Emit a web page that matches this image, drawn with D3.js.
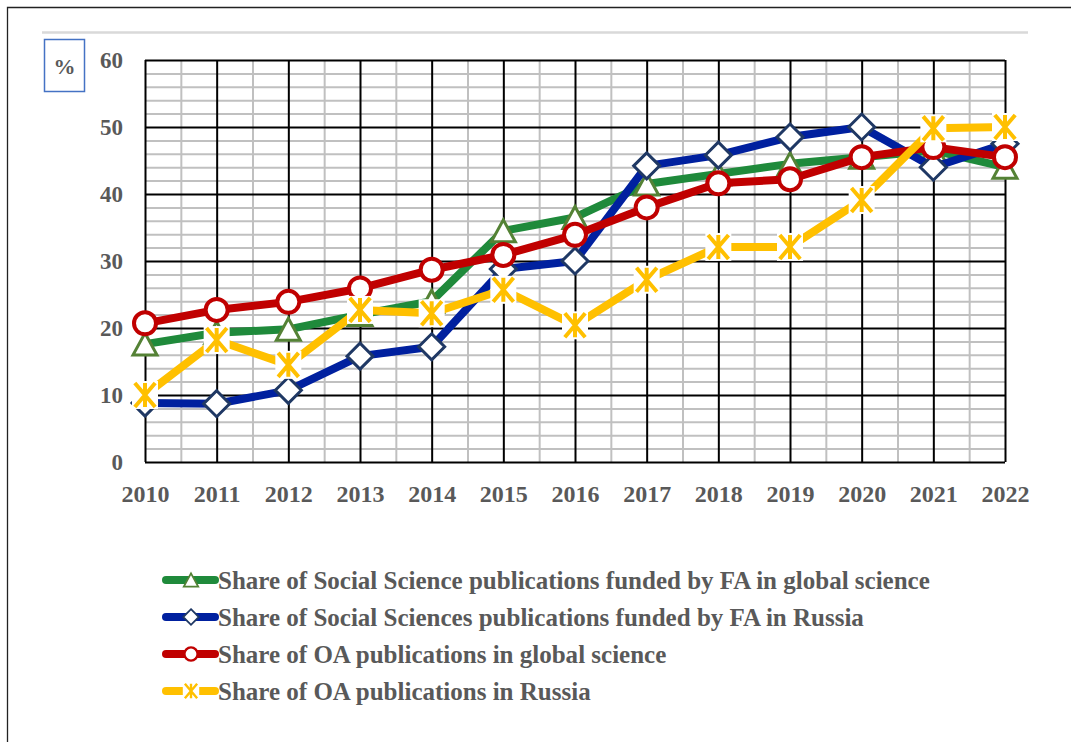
<!DOCTYPE html>
<html><head><meta charset="utf-8">
<script src="https://cdn.jsdelivr.net/npm/d3@7"></script>
<style>
html,body{margin:0;padding:0;background:#fff;}
svg{display:block;}
</style></head>
<body>
<svg id="chart" width="1071" height="742"></svg>
<script>
const years = [2010,2011,2012,2013,2014,2015,2016,2017,2018,2019,2020,2021,2022];
const yTicks = [0,10,20,30,40,50,60];
const ssGlobalFA = [17.6,19.3,19.8,22.0,24.0,34.5,36.5,41.5,43.0,44.5,45.5,46.5,44.0];
const ssRussiaFA = [8.8,8.7,10.7,15.8,17.2,28.8,30.0,44.2,45.8,48.5,50.0,44.0,47.5];
const oaGlobal   = [20.7,22.7,23.9,25.9,28.7,30.9,33.9,38.0,41.6,42.2,45.5,47.0,45.5];
const oaRussia   = [10.0,18.2,14.5,22.7,22.2,25.7,20.4,27.2,32.1,32.1,39.1,49.8,50.0];
const seriesNames = [
  "Share of Social Science publications funded by FA in global science",
  "Share of Social Sciences publications funded by FA in Russia",
  "Share of OA publications in global science",
  "Share of OA publications in Russia"
];

const series = [
  {name:seriesNames[0], values:ssGlobalFA, color:"#1f8a3b", mstroke:"#548235", marker:"triangle"},
  {name:seriesNames[1], values:ssRussiaFA, color:"#00209f", mstroke:"#1f3864", marker:"diamond"},
  {name:seriesNames[2], values:oaGlobal,   color:"#c00000", mstroke:"#c00000", marker:"circle"},
  {name:seriesNames[3], values:oaRussia,   color:"#ffc000", mstroke:"#ffc000", marker:"star"}
];

const FONT = "'Liberation Serif', 'Times New Roman', Tinos, 'DejaVu Serif', serif";
const svg = d3.select("#chart");
const L=145, R=1005, T=60, B=462;
const x = d3.scaleLinear().domain([2010,2022]).range([L,R]);
const y = d3.scaleLinear().domain([0,60]).range([B,T]);

function styleText(sel, size){
  sel.attr("font-family", FONT).attr("font-weight","bold").attr("fill","#595959").attr("font-size", size)
     .style("font-family", FONT).style("font-weight","bold");
}

// outer border
svg.append("path").attr("d","M7.5,742 V7.5 H1071").attr("fill","none").attr("stroke","#222").attr("stroke-width",1.3);
// top light line
svg.append("line").attr("x1",42).attr("x2",1028).attr("y1",32.5).attr("y2",32.5).attr("stroke","#d9d9d9").attr("stroke-width",2.5);

// % box
svg.append("rect").attr("x",44.5).attr("y",39.5).attr("width",40).attr("height",52).attr("fill","#fff").attr("stroke","#4472c4").attr("stroke-width",1.5);
svg.append("text").attr("x",64.5).attr("y",74).attr("text-anchor","middle").text("%").call(styleText,22);

const g = svg.append("g");
const minorY = d3.range(0,61,2).filter(v=>v%10!==0);
g.append("g").attr("transform",`translate(${L},0)`)
  .call(d3.axisLeft(y).tickValues(minorY).tickSize(-(R-L)).tickFormat(""))
  .call(s=>{s.select(".domain").remove(); s.selectAll("line").attr("stroke","#c0c0c0").attr("stroke-width",2);});
const minorX = years.slice(0,-1).map(v=>v+0.5);
g.append("g").attr("transform",`translate(0,${B})`)
  .call(d3.axisBottom(x).tickValues(minorX).tickSize(-(B-T)).tickFormat(""))
  .call(s=>{s.select(".domain").remove(); s.selectAll("line").attr("stroke","#c0c0c0").attr("stroke-width",2);});
g.append("g").attr("transform",`translate(${L},0)`)
  .call(d3.axisLeft(y).tickValues(yTicks).tickSize(-(R-L)).tickFormat(""))
  .call(s=>{s.select(".domain").remove(); s.selectAll("line").attr("stroke","#000").attr("stroke-width",2);});
g.append("g").attr("transform",`translate(0,${B})`)
  .call(d3.axisBottom(x).tickValues(years).tickSize(-(B-T)).tickFormat(""))
  .call(s=>{s.select(".domain").remove(); s.selectAll("line").attr("stroke","#000").attr("stroke-width",2);});

// y labels
const ya = svg.append("g").attr("transform",`translate(${L},0)`)
  .call(d3.axisLeft(y).tickValues(yTicks).tickSize(0).tickPadding(22).tickFormat(d3.format("d")));
ya.select(".domain").remove();
ya.attr("font-family",FONT);
ya.selectAll("text").call(styleText,23).attr("dy","0.34em");
// x labels
const xa = svg.append("g").attr("transform",`translate(0,${B})`)
  .call(d3.axisBottom(x).tickValues(years).tickSize(0).tickPadding(33).tickFormat(d3.format("d")));
xa.select(".domain").remove();
xa.attr("font-family",FONT);
xa.selectAll("text").call(styleText,24).attr("dy","0.3em");

function drawMarker(sel, type, color, stroke, scale){
  if(type==="triangle"){
    const w=12*scale, h=11*scale;
    sel.append("path").attr("d",`M0,${-h} L${w},${h} L${-w},${h} Z`).attr("fill","#fff").attr("stroke",stroke).attr("stroke-width",3*scale);
  } else if(type==="diamond"){
    const r=13*scale;
    sel.append("path").attr("d",`M0,${-r} L${r},0 L0,${r} L${-r},0 Z`).attr("fill","#fff").attr("stroke",stroke).attr("stroke-width",3*scale);
  } else if(type==="circle"){
    sel.append("circle").attr("r",11*scale).attr("fill","#fff").attr("stroke",stroke).attr("stroke-width",4*scale);
  } else if(type==="star"){
    const r=12*scale;
    sel.append("rect").attr("x",-r-1).attr("y",-r-2).attr("width",2*r+2).attr("height",2*r+4).attr("fill","#fff");
    sel.append("path").attr("d",`M${-r*0.85},${-r} L${r*0.85},${r} M${r*0.85},${-r} L${-r*0.85},${r} M0,${-r} V${r}`)
      .attr("stroke",color).attr("stroke-width",4*scale).attr("fill","none");
  }
}

const line = d3.line().x((d,i)=>x(years[i])).y(d=>y(d));
series.forEach(s=>{
  const sg = svg.append("g");
  sg.append("path").datum(s.values).attr("d",line).attr("fill","none").attr("stroke",s.color).attr("stroke-width",8).attr("stroke-linejoin","round");
  s.values.forEach((v,i)=>{
    const m = sg.append("g").attr("transform",`translate(${x(years[i])},${y(v)})`);
    drawMarker(m, s.marker, s.color, s.mstroke, 1);
  });
});

// legend
const legY = [580,617,654,691];
const lg = svg.append("g");
series.forEach((s,i)=>{
  const row = lg.append("g").attr("transform",`translate(0,${legY[i]})`);
  row.append("line").attr("x1",166).attr("x2",215).attr("stroke",s.color).attr("stroke-width",8).attr("stroke-linecap","round");
  const m = row.append("g").attr("transform","translate(191,0)");
  drawMarker(m, s.marker, s.color, s.mstroke, 0.6);
  row.append("text").attr("class","legtext").attr("x",218).attr("y",0).attr("dy","0.34em").text(s.name).call(styleText,25);
});
const t0 = lg.select(".legtext").node();
const w0 = t0.getComputedTextLength();
const k = 712/w0;
lg.selectAll(".legtext").attr("transform",`translate(218,0) scale(${k},1) translate(-218,0)`);
</script>
</body></html>
